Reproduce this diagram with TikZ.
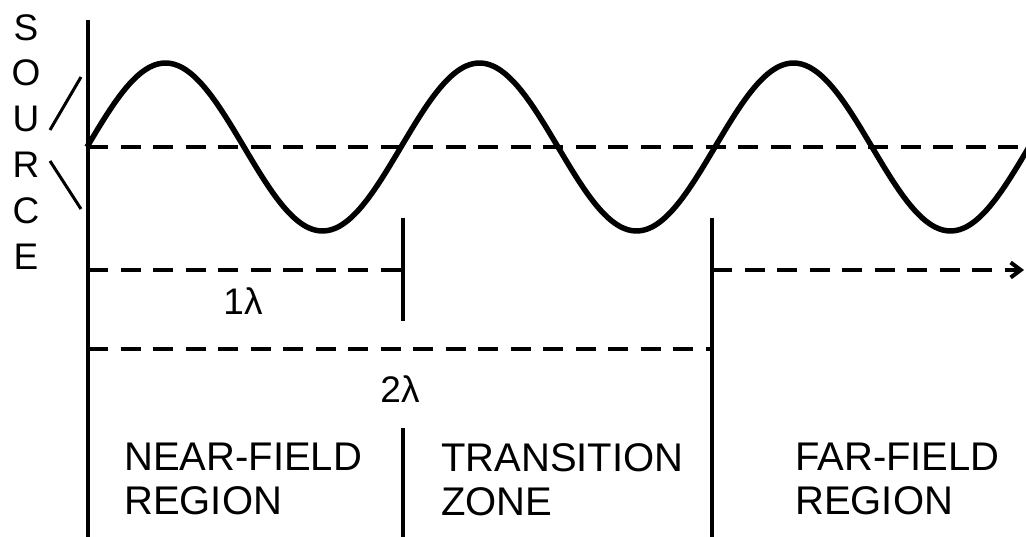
\documentclass[tikz,border=0pt]{standalone}
\usepackage{fontspec}
\setmainfont{Liberation Sans}
\usetikzlibrary{arrows.meta}
\tikzset{
  wave/.style={
    draw=black,
    line width=5.5pt,
    line join=round
  },
  markerline/.style={
    draw=black,
    line width=3.5pt
  },
  spanline/.style={
    draw=black,
    line width=4pt,
    dash pattern=on 20pt off 12.5pt
  },
  slashline/.style={
    draw=black,
    line width=3pt
  },
  zonetext/.style={
    font=\fontsize{40}{44}\selectfont,
    align=left,
    anchor=north west,
    inner sep=0pt
  },
  lambdatext/.style={
    font=\fontsize{37}{44}\selectfont,
    inner sep=0pt
  }
}

\begin{document}
\begin{tikzpicture}[x=1pt,y=-1pt]

  % Picture frame, in pixels of the original figure (y runs downward).
  \useasboundingbox (0,0) rectangle (1026,537);

  % Source axis and the marks of the one- and two-wavelength distances.
  \coordinate (S0) at (88,20);
  \coordinate (S1) at (88,537);
  \coordinate (A0) at (403,218);
  \coordinate (A1) at (403,321);
  \coordinate (B0) at (712,218);
  \coordinate (B1) at (712,537);
  \coordinate (D0) at (403,428);
  \coordinate (D1) at (403,537);

  \draw[markerline] (S0) -- (S1);
  \draw[markerline] (A0) -- (A1);
  \draw[markerline] (B0) -- (B1);
  \draw[markerline] (D0) -- (D1);

  % Zero line of the wave.
  \coordinate (Z0) at (88,147);
  \coordinate (Z1) at (1026,147);
  \draw[spanline] (Z0) -- (Z1);

  % Wave leaving the source.
  \draw[wave] plot[domain=87:1030,samples=240,smooth]
    (\x,{147-84*sin(1.14650*(\x-87))});

  % Distance spans from the source.
  \coordinate (L1) at (88,270);
  \coordinate (R1) at (403,270);
  \coordinate (L2) at (88,349);
  \coordinate (R2) at (712,349);
  \coordinate (F0) at (712,270);
  \coordinate (F1) at (1024,270);
  \draw[spanline] (L1) -- (R1);
  \draw[spanline] (L2) -- (R2);
  \draw[spanline,-{Straight Barb[length=10pt,width=15pt]}] (F0) -- (F1);

  \node[lambdatext] (onelambda) at (243,301) {1λ};
  \node[lambdatext] (twolambda) at (400,389) {2λ};

  % Source label and its two strokes.
  \node[font=\fontsize{37}{45.8}\selectfont,align=center,anchor=north,
        inner sep=0pt] (source) at (26,14) {S\\O\\U\\R\\C\\E};
  \coordinate (P0) at (50,130);
  \coordinate (P1) at (81,77);
  \coordinate (Q0) at (50,161);
  \coordinate (Q1) at (81,209);
  \draw[slashline] (P0) -- (P1);
  \draw[slashline] (Q0) -- (Q1);

  % Region names.
  \node[zonetext] (nearfield) at (124,443) {NEAR-FIELD\\REGION};
  \node[zonetext] (transition) at (441,443) {TRANSITION\\ZONE};
  \node[zonetext] (farfield) at (795,443) {FAR-FIELD\\REGION};

\end{tikzpicture}
\end{document}
